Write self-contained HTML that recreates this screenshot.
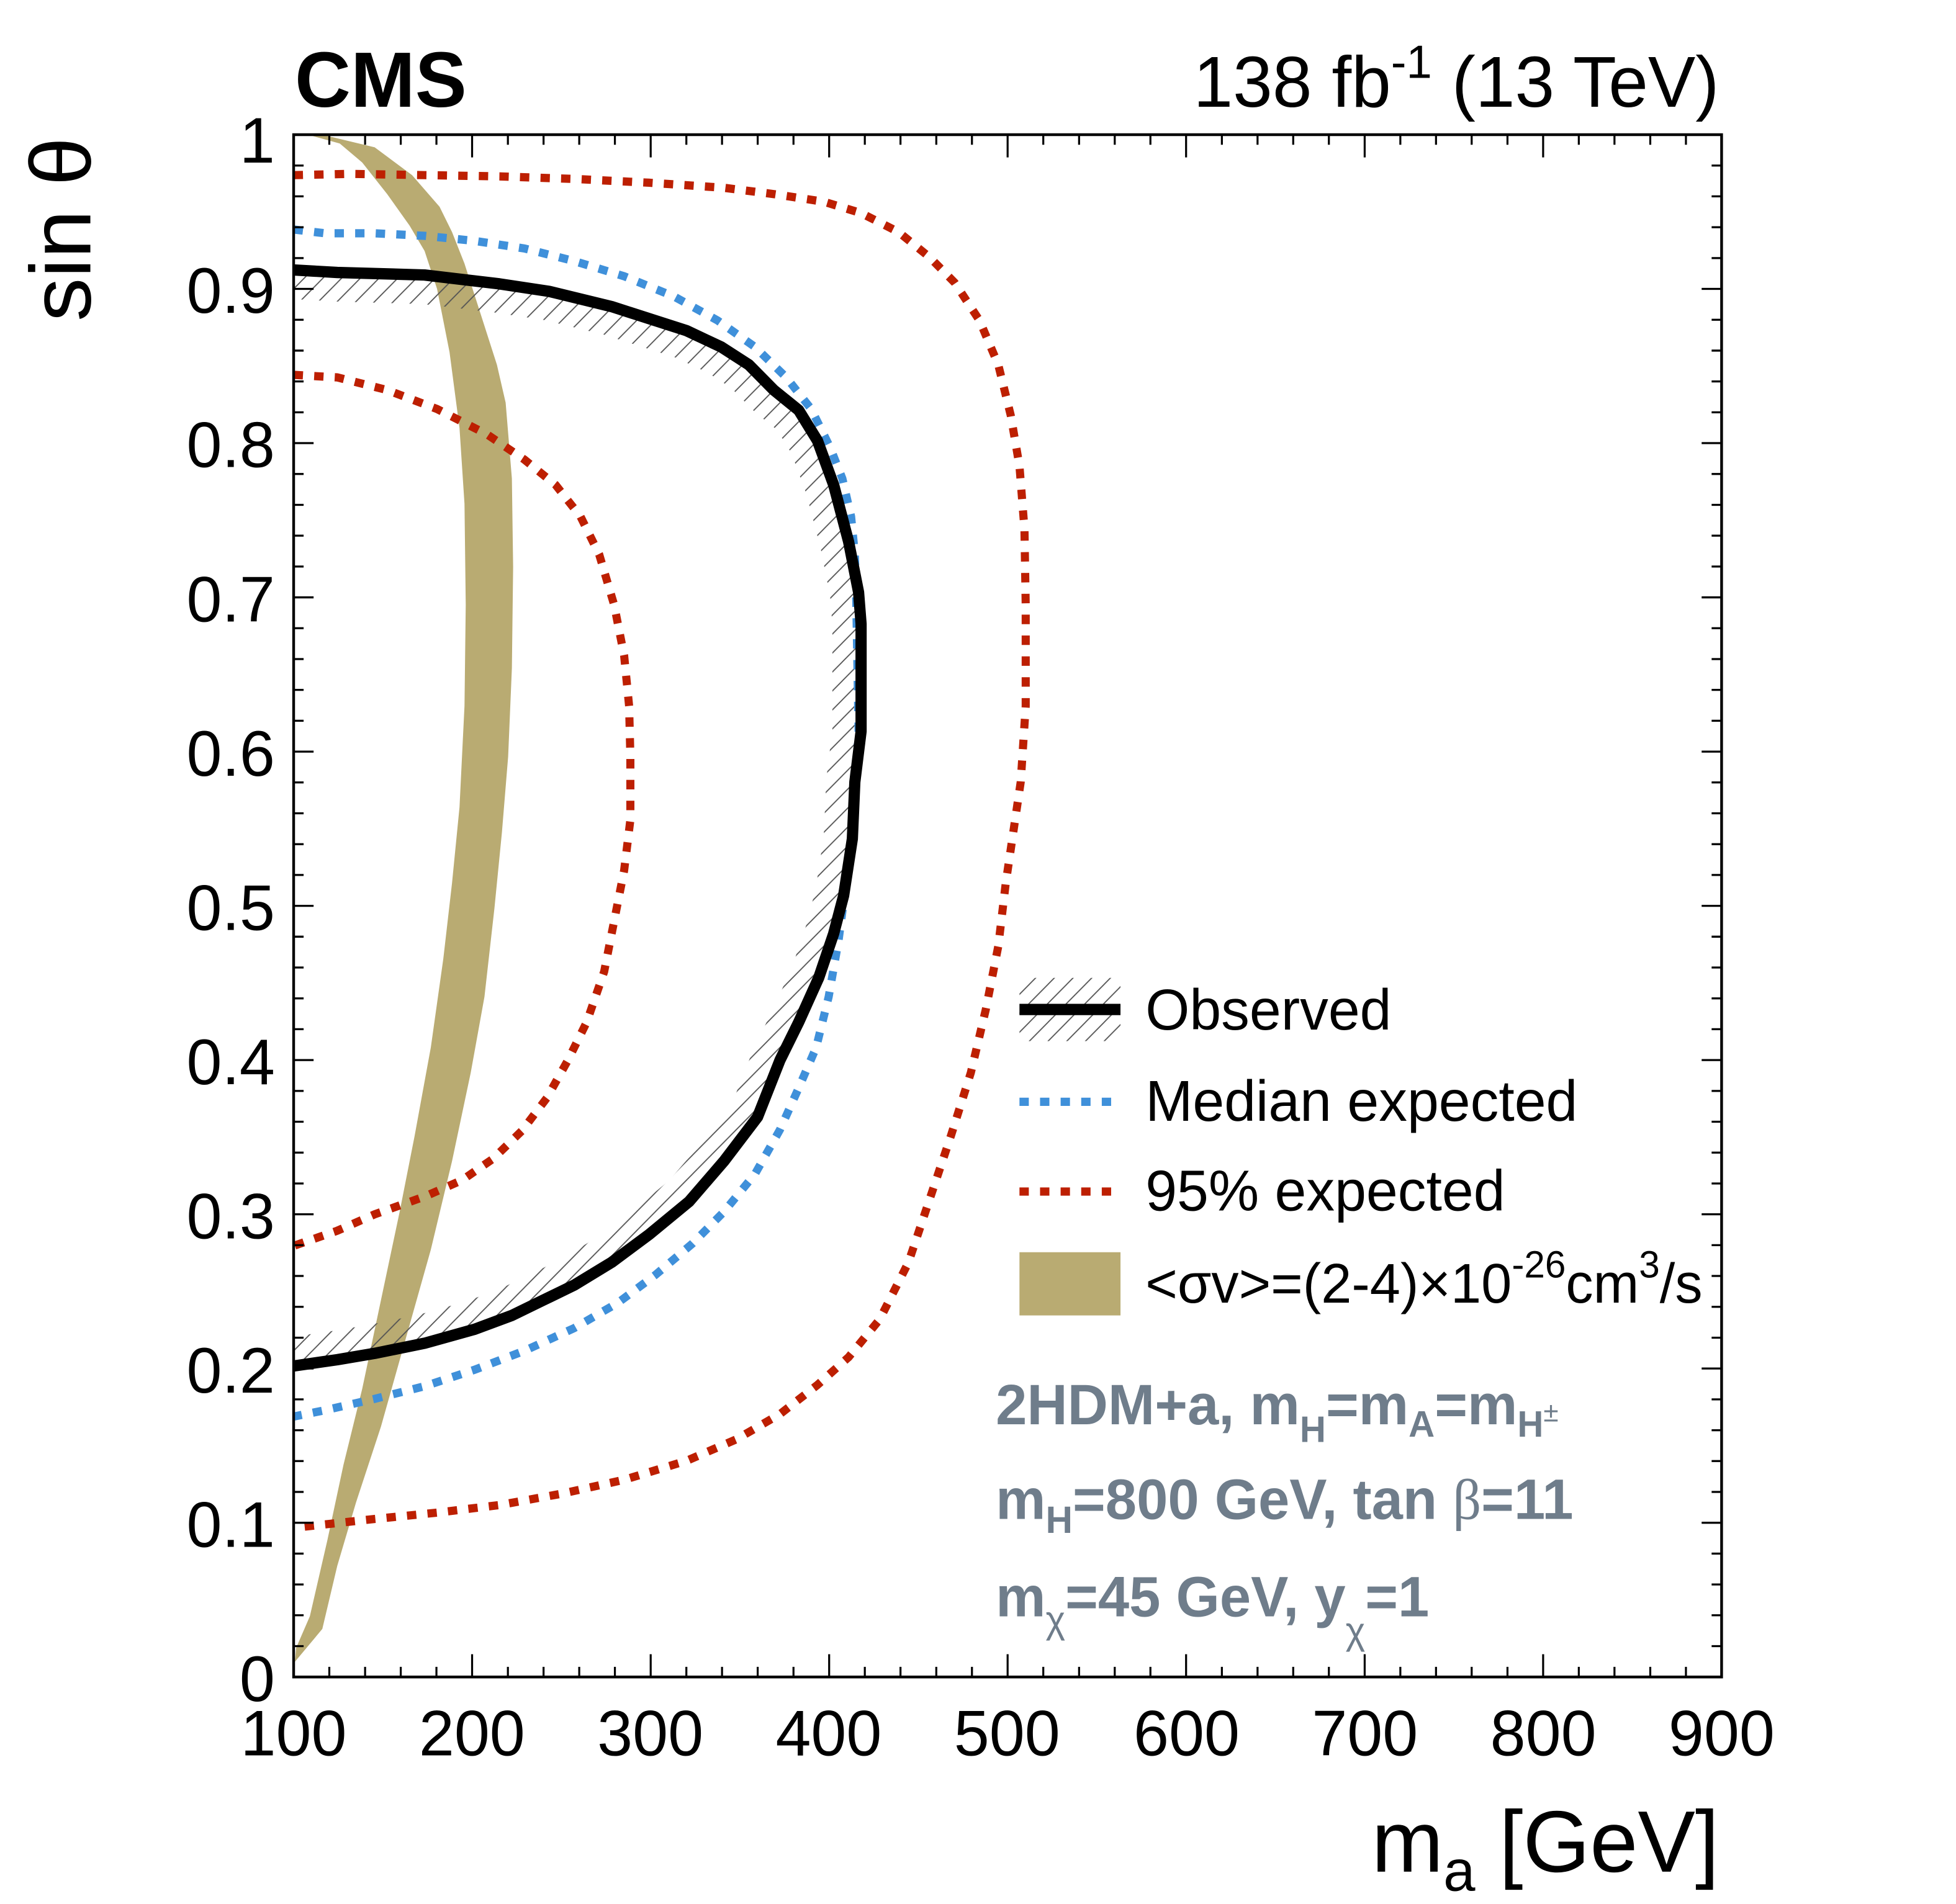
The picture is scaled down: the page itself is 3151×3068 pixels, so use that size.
<!DOCTYPE html>
<html><head><meta charset="utf-8"><style>html,body{margin:0;padding:0;background:#fff}svg{display:block}</style></head>
<body>
<svg xmlns="http://www.w3.org/2000/svg" width="3151" height="3068" viewBox="-0.45 1.47 1568.4 1506.1" preserveAspectRatio="none" font-family="Liberation Sans, Arial, sans-serif">
<defs>
<pattern id="hatch" patternUnits="userSpaceOnUse" width="15" height="15">
<path d="M-2,17 L17,-2 M-8,8 L8,-8 M7,23 L23,7" stroke="#555" stroke-width="0.9"/>
</pattern>
<clipPath id="inside"><path d="M235,215 L270,217 L340,219 L400,226 L440,232 L490,244 L550,263 L578,276 L600,290 L620,310 L640,326 L655,350 L668,385 L680,430 L688,470 L690,495 L690,580 L685,620 L683,665 L676,710 L668,740 L656,775 L640,810 L625,840 L607,885 L580,920 L552,952 L520,978 L490,1000 L460,1018 L435,1030 L410,1042 L380,1053 L340,1064 L300,1072 L270,1077 L235,1082 Z"/></clipPath>
<mask id="band" maskUnits="userSpaceOnUse" x="0" y="0" width="1600" height="1600">
<path d="M235,215 L270,217 L340,219 L400,226 L440,232 L490,244 L550,263 L578,276 L600,290 L620,310 L640,326 L655,350 L668,385 L680,430 L688,470 L690,495 L690,580 L685,620 L683,665 L676,710 L668,740 L656,775 L640,810 L625,840 L607,885 L580,920 L552,952 L520,978 L490,1000 L460,1018 L435,1030 L410,1042 L380,1053 L340,1064 L300,1072 L270,1077 L235,1082" fill="none" stroke="#fff" stroke-width="46"/>
</mask>
<clipPath id="frame"><rect x="235" y="108" width="1145" height="1220"/></clipPath>
</defs>

<g clip-path="url(#frame)">
<path fill="#b9ab72" d="M250,109 L262,109 L300,118 L330,140 L352,165 L362,185 L372,210 L385,250 L398,290 L405,320 L410,380 L411,450 L410,530 L407,600 L402,660 L396,720 L388,790 L377,850 L362,920 L345,990 L325,1060 L305,1130 L285,1190 L270,1240 L258,1290 L236,1316 L237,1305 L248,1280 L262,1220 L275,1160 L290,1100 L305,1030 L320,960 L332,900 L345,830 L355,760 L362,700 L368,640 L372,560 L373,480 L372,400 L368,340 L360,280 L350,230 L340,200 L328,180 L310,155 L290,130 L272,115 Z"/>
<g clip-path="url(#inside)"><rect x="235" y="108" width="700" height="1000" fill="url(#hatch)" mask="url(#band)"/></g>
<path fill="none" stroke="#bd1f01" stroke-width="6.5" stroke-dasharray="7.5 9" d="M235,140 L280,139 L340,140 L400,141 L460,143 L520,146 L580,150 L620,155 L660,161 L690,170 L720,185 L745,205 L765,225 L785,255 L800,290 L810,330 L817,370 L821,420 L822,480 L822,560 L818,620 L812,660 L806,700 L800,750 L790,800 L778,850 L762,900 L745,950 L728,1000 L705,1045 L680,1075 L655,1097 L625,1120 L590,1140 L550,1157 L500,1172 L450,1183 L400,1192 L350,1198 L300,1203 L235,1210"/>
<path fill="none" stroke="#bd1f01" stroke-width="6.5" stroke-dasharray="7.5 9" d="M235,298 L270,300 L310,310 L350,325 L390,345 L420,365 L445,385 L465,410 L480,440 L492,480 L500,520 L504,560 L505,600 L505,650 L500,690 L492,730 L484,770 L470,810 L455,840 L438,870 L418,896 L395,918 L370,935 L340,948 L300,962 L270,975 L235,987"/>
<path fill="none" stroke="#3f90da" stroke-width="6.5" stroke-dasharray="7.5 9" d="M235,183 L260,186 L300,186 L340,188 L380,192 L420,198 L460,208 L500,220 L540,236 L575,255 L605,276 L630,300 L650,325 L665,355 L675,380 L682,410 L685,440 L686,470 L688,580 L683,660 L678,700 L672,745 L664,790 L654,830 L640,862 L625,895 L605,930 L580,960 L555,985 L525,1010 L495,1032 L460,1052 L420,1070 L380,1085 L340,1098 L300,1108 L260,1117 L235,1122"/>
<path fill="none" stroke="#000" stroke-width="9" stroke-linejoin="round" d="M235,215 L270,217 L340,219 L400,226 L440,232 L490,244 L550,263 L578,276 L600,290 L620,310 L640,326 L655,350 L668,385 L680,430 L688,470 L690,495 L690,580 L685,620 L683,665 L676,710 L668,740 L656,775 L640,810 L625,840 L607,885 L580,920 L552,952 L520,978 L490,1000 L460,1018 L435,1030 L410,1042 L380,1053 L340,1064 L300,1072 L270,1077 L235,1082"/>
</g>

<rect x="235" y="108" width="1145" height="1220" fill="none" stroke="#000" stroke-width="2.2"/>
<g stroke="#000" stroke-width="1.6">
<path d="M235,1328h16M235,1206h16M235,1084h16M235,962h16M235,840h16M235,718h16M235,596h16M235,474h16M235,352h16M235,230h16M235,108h16
M1380,1328h-16M1380,1206h-16M1380,1084h-16M1380,962h-16M1380,840h-16M1380,718h-16M1380,596h-16M1380,474h-16M1380,352h-16M1380,230h-16M1380,108h-16"/>
<path d="M235,1303.6h8M235,1279.2h8M235,1254.8h8M235,1230.4h8M235,1181.6h8M235,1157.2h8M235,1132.8h8M235,1108.4h8M235,1059.6h8M235,1035.2h8M235,1010.8h8M235,986.4h8M235,937.6h8M235,913.2h8M235,888.8h8M235,864.4h8M235,815.6h8M235,791.2h8M235,766.8h8M235,742.4h8M235,693.6h8M235,669.2h8M235,644.8h8M235,620.4h8M235,571.6h8M235,547.2h8M235,522.8h8M235,498.4h8M235,449.6h8M235,425.2h8M235,400.8h8M235,376.4h8M235,327.6h8M235,303.2h8M235,278.8h8M235,254.4h8M235,205.6h8M235,181.2h8M235,156.8h8M235,132.4h8
M1380,1303.6h-8M1380,1279.2h-8M1380,1254.8h-8M1380,1230.4h-8M1380,1181.6h-8M1380,1157.2h-8M1380,1132.8h-8M1380,1108.4h-8M1380,1059.6h-8M1380,1035.2h-8M1380,1010.8h-8M1380,986.4h-8M1380,937.6h-8M1380,913.2h-8M1380,888.8h-8M1380,864.4h-8M1380,815.6h-8M1380,791.2h-8M1380,766.8h-8M1380,742.4h-8M1380,693.6h-8M1380,669.2h-8M1380,644.8h-8M1380,620.4h-8M1380,571.6h-8M1380,547.2h-8M1380,522.8h-8M1380,498.4h-8M1380,449.6h-8M1380,425.2h-8M1380,400.8h-8M1380,376.4h-8M1380,327.6h-8M1380,303.2h-8M1380,278.8h-8M1380,254.4h-8M1380,205.6h-8M1380,181.2h-8M1380,156.8h-8M1380,132.4h-8"/>
<path d="M378.1,1328v-18M521.3,1328v-18M664.4,1328v-18M807.5,1328v-18M950.6,1328v-18M1093.8,1328v-18M1236.9,1328v-18
M378.1,108v18M521.3,108v18M664.4,108v18M807.5,108v18M950.6,108v18M1093.8,108v18M1236.9,108v18"/>
<path d="M263.6,1328v-8M292.3,1328v-8M320.9,1328v-8M349.5,1328v-8M406.8,1328v-8M435.4,1328v-8M464,1328v-8M492.6,1328v-8M549.9,1328v-8M578.5,1328v-8M607.1,1328v-8M635.8,1328v-8M693,1328v-8M721.6,1328v-8M750.3,1328v-8M778.9,1328v-8M836.1,1328v-8M864.8,1328v-8M893.4,1328v-8M922,1328v-8M979.3,1328v-8M1007.9,1328v-8M1036.5,1328v-8M1065.1,1328v-8M1122.4,1328v-8M1151,1328v-8M1179.6,1328v-8M1208.3,1328v-8M1265.5,1328v-8M1294.1,1328v-8M1322.8,1328v-8M1351.4,1328v-8
M263.6,108v8M292.3,108v8M320.9,108v8M349.5,108v8M406.8,108v8M435.4,108v8M464,108v8M492.6,108v8M549.9,108v8M578.5,108v8M607.1,108v8M635.8,108v8M693,108v8M721.6,108v8M750.3,108v8M778.9,108v8M836.1,108v8M864.8,108v8M893.4,108v8M922,108v8M979.3,108v8M1007.9,108v8M1036.5,108v8M1065.1,108v8M1122.4,108v8M1151,108v8M1179.6,108v8M1208.3,108v8M1265.5,108v8M1294.1,108v8M1322.8,108v8M1351.4,108v8"/>
</g>

<g font-size="51" text-anchor="end" fill="#000">
<text x="220" y="1347">0</text><text x="220" y="1225">0.1</text><text x="220" y="1103">0.2</text><text x="220" y="981">0.3</text><text x="220" y="859">0.4</text><text x="220" y="737">0.5</text><text x="220" y="615">0.6</text><text x="220" y="493">0.7</text><text x="220" y="371">0.8</text><text x="220" y="249">0.9</text><text x="220" y="130">1</text>
</g>
<g font-size="51" text-anchor="middle" fill="#000">
<text x="235" y="1390">100</text><text x="378" y="1390">200</text><text x="521" y="1390">300</text><text x="664" y="1390">400</text><text x="807" y="1390">500</text><text x="951" y="1390">600</text><text x="1094" y="1390">700</text><text x="1237" y="1390">800</text><text x="1380" y="1390">900</text>
</g>
<text x="1378" y="1482" font-size="69" text-anchor="end">m<tspan font-size="46" dy="15">a</tspan><tspan dy="-15"> [GeV]</tspan></text>
<text transform="translate(72,110) rotate(-90)" font-size="69" text-anchor="end">sin θ</text>

<text x="236" y="86" font-size="62" font-weight="bold">CMS</text>
<text x="1378" y="86" font-size="57" text-anchor="end">138 fb<tspan font-size="37" dy="-23">-1</tspan><tspan dy="23"> (13 TeV)</tspan></text>

<rect x="817" y="775" width="81" height="50" fill="url(#hatch)"/>
<line x1="817" y1="800" x2="898" y2="800" stroke="#000" stroke-width="9"/>
<line x1="817" y1="873" x2="895" y2="873" stroke="#3f90da" stroke-width="6.5" stroke-dasharray="7.5 9"/>
<line x1="817" y1="944" x2="895" y2="944" stroke="#bd1f01" stroke-width="6.5" stroke-dasharray="7.5 9"/>
<rect x="817" y="992" width="81" height="50" fill="#b9ab72"/>
<g font-size="45.5" fill="#000">
<text x="918" y="816">Observed</text>
<text x="918" y="888">Median expected</text>
<text x="918" y="959">95% expected</text>
<text x="918" y="1032" font-size="44">&lt;σv&gt;=(2-4)×10<tspan font-size="30" dy="-20">-26</tspan><tspan dy="20">cm</tspan><tspan font-size="30" dy="-20">3</tspan><tspan dy="20">/s</tspan></text>
</g>
<g font-size="45" font-weight="bold" fill="#6f7d8b">
<text x="798" y="1128">2HDM+a, m<tspan font-size="29" dy="14">H</tspan><tspan dy="-14">=m</tspan><tspan font-size="29" dy="10">A</tspan><tspan dy="-10">=m</tspan><tspan font-size="29" dy="10">H</tspan><tspan font-size="22" font-weight="normal" dy="-12">±</tspan></text>
<text x="798" y="1203">m<tspan font-size="30" dy="11">H</tspan><tspan dy="-11">=800 GeV, tan </tspan><tspan font-family="Liberation Serif, serif" font-weight="normal">β</tspan>=11</text>
<text x="798" y="1280">m<tspan font-size="30" font-weight="normal" dy="13">χ</tspan><tspan dy="-13">=45 GeV, y</tspan><tspan font-size="30" font-weight="normal" dy="22">χ</tspan><tspan dy="-22">=1</tspan></text>
</g>
</svg>
</body></html>
